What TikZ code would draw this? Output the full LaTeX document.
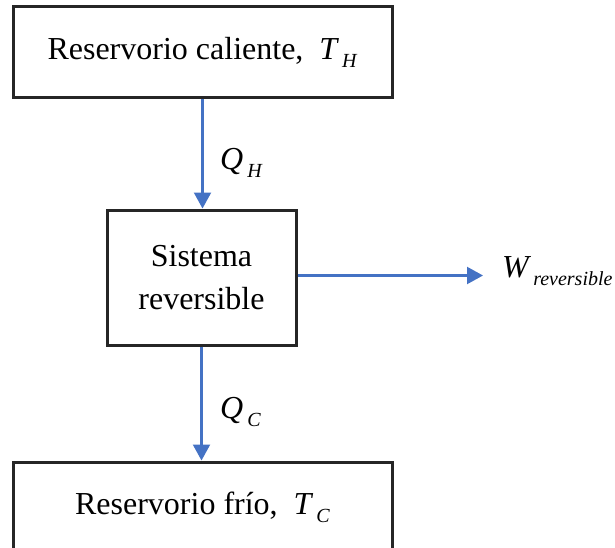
\documentclass[tikz,border=0pt]{standalone}
\usepackage{fontspec}
\setmainfont{Liberation Serif}
\usetikzlibrary{arrows.meta}
\definecolor{arrowblue}{HTML}{4472C4}
\definecolor{boxline}{HTML}{262626}
\newcommand{\bigfont}{\fontsize{32}{43}\selectfont}
\newcommand{\subfont}{\fontsize{20}{20}\selectfont}
\newcommand{\subsc}[1]{\raisebox{-8pt}{\subfont\textit{#1}}}
\tikzset{
  box/.style={draw=boxline, line width=3pt, fill=white, inner sep=0pt, align=center, font=\bigfont},
  flow/.style={draw=arrowblue, line width=2.2pt, -{Triangle[length=16pt,width=17pt]}},
  lbl/.style={inner sep=0pt, anchor=base west, font=\bigfont}
}
\begin{document}
\begin{tikzpicture}[x=1pt,y=-1pt]
\path[use as bounding box, clip] (0,0) rectangle (615,548);
\node[box, minimum width=379pt, minimum height=91pt] (hot) at (202.5,52.5)
  {Reservorio caliente,\ \ \textit{T}\hspace{3pt}\subsc{H}};
\node[box, minimum width=189pt, minimum height=135pt] (sys) at (201.5,277.5)
  {Sistema\\reversible};
\node[box, minimum width=379pt, minimum height=91pt] (cold) at (202.5,507.5)
  {Reservorio frío,\ \ \textit{T}\hspace{3pt}\subsc{C}};
\coordinate (wend) at (483,275.5);
\draw[flow] (hot.south) -- (hot.south |- sys.north);
\draw[flow] (sys.south) -- (sys.south |- cold.north);
\draw[flow] (sys.east |- wend) -- (wend);
\node[lbl] (qh) at (220,170) {\textit{Q}\hspace{4pt}\subsc{H}};
\node[lbl] (qc) at (220,418) {\textit{Q}\hspace{4pt}\subsc{C}};
\node[lbl] (w) at (502,277) {\textit{W}\hspace{2pt}\subsc{reversible}};
\end{tikzpicture}
\end{document}
